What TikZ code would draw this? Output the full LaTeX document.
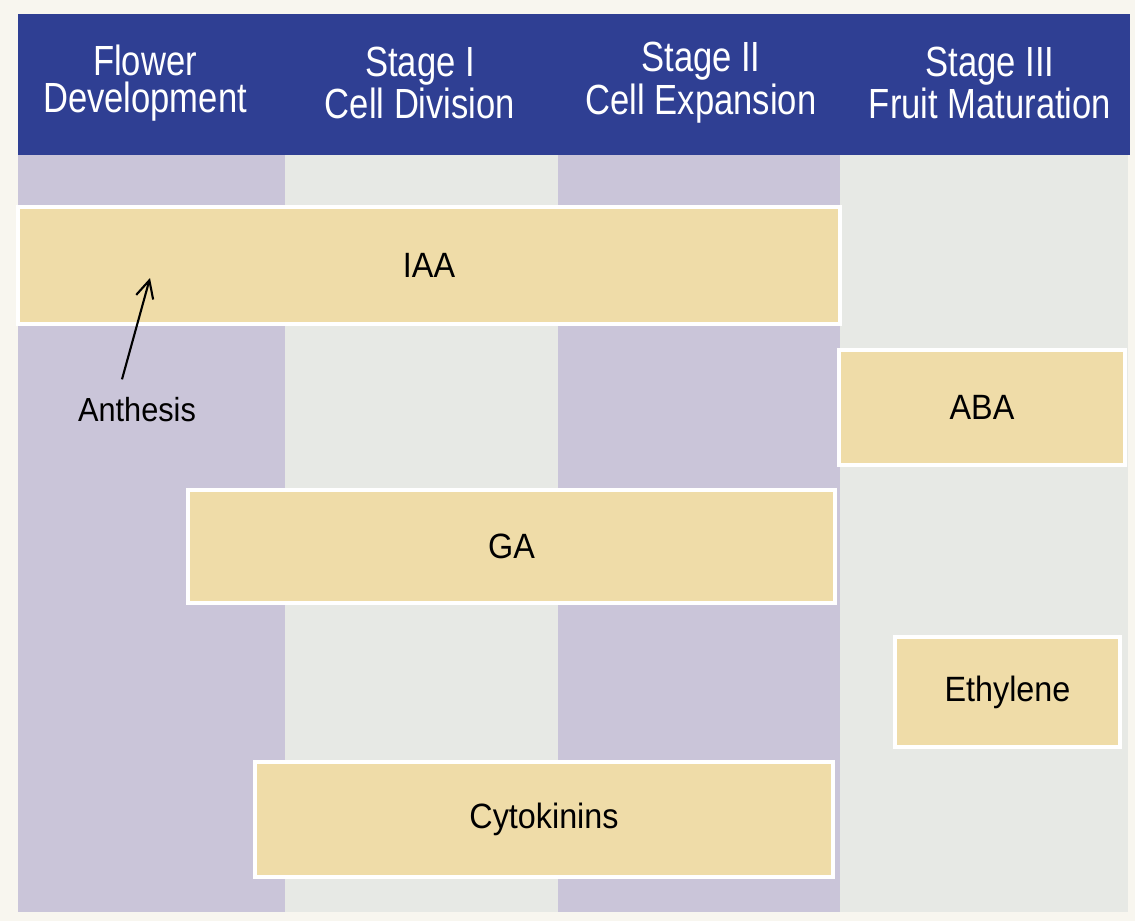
\documentclass[tikz,border=0pt]{standalone}
\usepackage{fontspec}
\setmainfont{Liberation Sans}
\newfontfamily\headfont{Liberation Sans}[FakeStretch=0.82]
\newfontfamily\barfont{Liberation Sans}[FakeStretch=0.92]
\usetikzlibrary{arrows.meta}
\definecolor{paper}{HTML}{F8F6EF}
\definecolor{headblue}{HTML}{2F3F93}
\definecolor{lav}{HTML}{CAC5D9}
\definecolor{pale}{HTML}{E7E9E5}
\definecolor{barfill}{HTML}{EFDCA8}
\tikzset{
  head/.style={text=white, align=center, font=\headfont\fontsize{12}{10.5}\selectfont},
  bar/.style={fill=barfill, draw=white, line width=1pt, inner sep=0pt,
    font=\barfont\fontsize{10}{12}\selectfont},
  note/.style={font=\barfont\fontsize{9.5}{11}\selectfont},
  pointer/.style={-{Straight Barb[length=5pt,width=5pt]}, line width=0.6pt},
}

\begin{document}
\begin{tikzpicture}
  % Page
  \useasboundingbox[fill=paper] (0,0) rectangle (11.35,-9.21);

  % Stage columns
  \foreach \xl/\xr/\c in {0.18/2.85/lav, 2.85/5.58/pale, 5.58/8.40/lav, 8.40/11.28/pale} {
    \fill[\c] (\xl,-1.55) rectangle (\xr,-9.12);
  }

  % Header band
  \fill[headblue] (0.18,-0.14) rectangle (11.30,-1.55);
  \node[head] (flower) at (1.45,-0.83) {Flower\\Development};
  \node[head] (stage1) at (4.20,-0.83) {Stage I\\Cell Division};
  \node[head] (stage2) at (7.01,-0.83) {Stage II\\Cell Expansion};
  \node[head] (stage3) at (9.90,-0.83) {Stage III\\Fruit Maturation};

  % Hormone bars
  \node[bar, minimum width=8.22cm, minimum height=1.17cm] (iaa) at (4.29,-2.655) {IAA};
  \node[bar, minimum width=2.86cm, minimum height=1.15cm] (aba) at (9.82,-4.075) {ABA};
  \node[bar, minimum width=6.47cm, minimum height=1.13cm] (ga) at (5.115,-5.465) {GA};
  \node[bar, minimum width=2.25cm, minimum height=1.10cm] (ethylene) at (10.075,-6.92) {Ethylene};
  \node[bar, minimum width=5.78cm, minimum height=1.15cm] (cyto) at (5.44,-8.195) {Cytokinins};

  % Anthesis
  \node[note] (anthesis) at (1.37,-4.10) {Anthesis};
  \coordinate (anthtip) at (1.50,-2.78);
  \draw[pointer] ([xshift=-0.15cm,yshift=0.06cm]anthesis.north) -- (anthtip);
\end{tikzpicture}
\end{document}
